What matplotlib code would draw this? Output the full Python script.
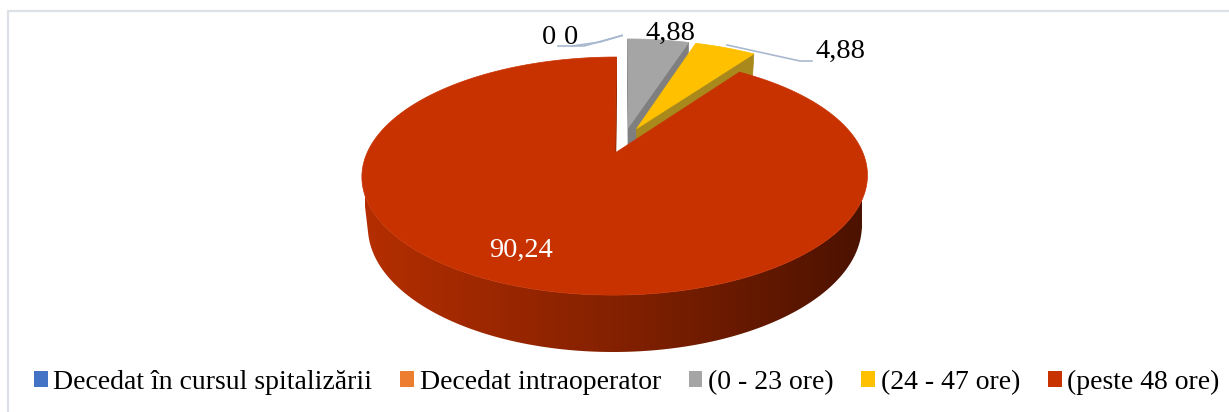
import numpy as np
import matplotlib
matplotlib.use('Agg')
import matplotlib.pyplot as plt
from matplotlib.patches import Polygon, Patch
from matplotlib.lines import Line2D

# ---------------- data ----------------
categories = ['Decedat în cursul spitalizării', 'Decedat intraoperator',
              '(0 - 23 ore)', '(24 - 47 ore)', '(peste 48 ore)']
values = [0, 0, 4.88, 4.88, 90.24]

# ---------------- style ----------------
top_colors = ['#4472C4', '#ED7D31', '#A5A5A5', '#FFC000', '#C83200']
radial_colors = ['#2F528F', '#AE5A21', '#7F7F7F', '#A9891C', '#8C2200']
wall_stops = {
    0: [(0, (50, 80, 150)), (1, (30, 50, 100))],
    1: [(0, (190, 100, 40)), (1, (120, 60, 20))],
    2: [(0, (140, 140, 140)), (1, (90, 90, 90))],
    3: [(0, (190, 150, 20)), (1, (130, 100, 10))],
    4: [(0, (180, 46, 0)), (0.5, (132, 33, 0)), (1, (76, 18, 0))],
}
FONT = 'Liberation Serif'

# projection (pixel space of a 1229x412 canvas)
S_A = 0.452
C_A = np.sqrt(1 - S_A ** 2)
DIST = 4.713
FOC = 1143.5
CX, CY = 624.0, 140.2
THICK = 0.229
EXPLODE = 0.12
CAM = np.array([0.0, -DIST * C_A, DIST * S_A])
GX0, GX1 = 365, 862


def project(u, v, w):
    depth = DIST + v * C_A - w * S_A
    return CX + FOC * u / depth, CY - FOC * (v * S_A + w * C_A) / depth


def grad_color(stops, t):
    t = min(max(t, 0), 1)
    for (t0, c0), (t1, c1) in zip(stops[:-1], stops[1:]):
        if t <= t1:
            f = (t - t0) / (t1 - t0) if t1 > t0 else 0
            return tuple((c0[i] + f * (c1[i] - c0[i])) / 255 for i in range(3))
    return tuple(c / 255 for c in stops[-1][1])


fig = plt.figure(figsize=(12.29, 4.12), dpi=100)
ax = fig.add_axes([0, 0, 1, 1])
ax.axis('off')

# chart frame
ax.add_line(Line2D([7.5, 7.5, 1229], [412, 11, 11], color='#DCE1E8', lw=1.6))

total = sum(values)
cum = np.concatenate([[0], np.cumsum(values)]) / total * 2 * np.pi

slices = []
for i, val in enumerate(values):
    if val <= 0:
        continue
    a0, a1 = cum[i], cum[i + 1]
    mid = (a0 + a1) / 2
    ou, ov = EXPLODE * np.sin(mid), EXPLODE * np.cos(mid)
    slices.append((ov, i, a0, a1, ou))

slices.sort(key=lambda s: -s[0])  # far first

for ov, i, a0, a1, ou in slices:
    n = max(int(np.degrees(a1 - a0)) * 2, 4)
    phis = np.linspace(a0, a1, n + 1)
    # outer wall: visible part as one polygon with a horizontal gradient
    vis = []
    for p in phis:
        pt = np.array([ou + np.sin(p), ov + np.cos(p), -THICK / 2])
        nrm = np.array([np.sin(p), np.cos(p), 0])
        vis.append(np.dot(nrm, CAM - pt) > 0)
    vis = np.array(vis)
    if vis.sum() >= 2:
        vp = phis[vis]
        topa = [project(ou + np.sin(p), ov + np.cos(p), 0) for p in vp]
        bota = [project(ou + np.sin(p), ov + np.cos(p), -THICK) for p in vp[::-1]]
        wall = Polygon(topa + bota, closed=True, facecolor='none', edgecolor='none')
        ax.add_patch(wall)
        xs = np.linspace(0, 1, 400)
        grad = np.array([[grad_color(wall_stops[i], t) for t in xs]])
        ys = [q[1] for q in topa + bota]
        im = ax.imshow(grad, extent=[GX0, GX1, max(ys) + 2, min(ys) - 2],
                       aspect='auto', interpolation='bilinear', zorder=1)
        im.set_clip_path(wall)
    # radial faces
    for ang, nrm in [(a0, np.array([-np.cos(a0), np.sin(a0), 0])),
                     (a1, np.array([np.cos(a1), -np.sin(a1), 0]))]:
        pt = np.array([ou + 0.5 * np.sin(ang), ov + 0.5 * np.cos(ang), -THICK / 2])
        if np.dot(nrm, CAM - pt) <= 0:
            continue
        pts = [project(ou, ov, 0), project(ou + np.sin(ang), ov + np.cos(ang), 0),
               project(ou + np.sin(ang), ov + np.cos(ang), -THICK), project(ou, ov, -THICK)]
        ax.add_patch(Polygon(pts, closed=True, facecolor=radial_colors[i],
                             edgecolor=radial_colors[i], lw=0.5, zorder=1))
    # top face
    top = [project(ou, ov, 0)] + [project(ou + np.sin(p), ov + np.cos(p), 0) for p in phis]
    ax.add_patch(Polygon(top, closed=True, facecolor=top_colors[i],
                         edgecolor=top_colors[i], lw=0.5, zorder=1))

ax.set_xlim(0, 1229)
ax.set_ylim(412, 0)


def fmt(v):
    return ('%g' % v).replace('.', ',')


# data labels
label_pos = [(549, 37), (571, 37), (671, 33), (841, 51), (521, 250)]
label_col = ['black', 'black', 'black', 'black', 'white']
for v, (x, y), c in zip(values, label_pos, label_col):
    ax.text(x, y, fmt(v), fontsize=20.5, family=FONT, color=c, ha='center',
            va='center', zorder=5)

# leader lines
lead = '#A9B9CF'
ax.add_line(Line2D([558, 584, 622], [46, 46, 35.5], color=lead, lw=1.2, zorder=4))
ax.add_line(Line2D([572, 600, 622], [46, 42, 35.5], color=lead, lw=1.2, zorder=4))
ax.add_line(Line2D([727, 800, 812], [45, 61, 61], color=lead, lw=1.2, zorder=4))

# legend
handles = [Patch(facecolor=c, edgecolor='none') for c in top_colors]
fig.legend(handles, categories, ncol=5, loc='center', bbox_to_anchor=(0.510, 0.072),
           frameon=False, prop={'family': FONT, 'size': 20},
           handlelength=0.5, handleheight=0.5, handletextpad=0.2,
           columnspacing=1.0, borderpad=0, borderaxespad=0)

fig.savefig('out.png', dpi=100)
